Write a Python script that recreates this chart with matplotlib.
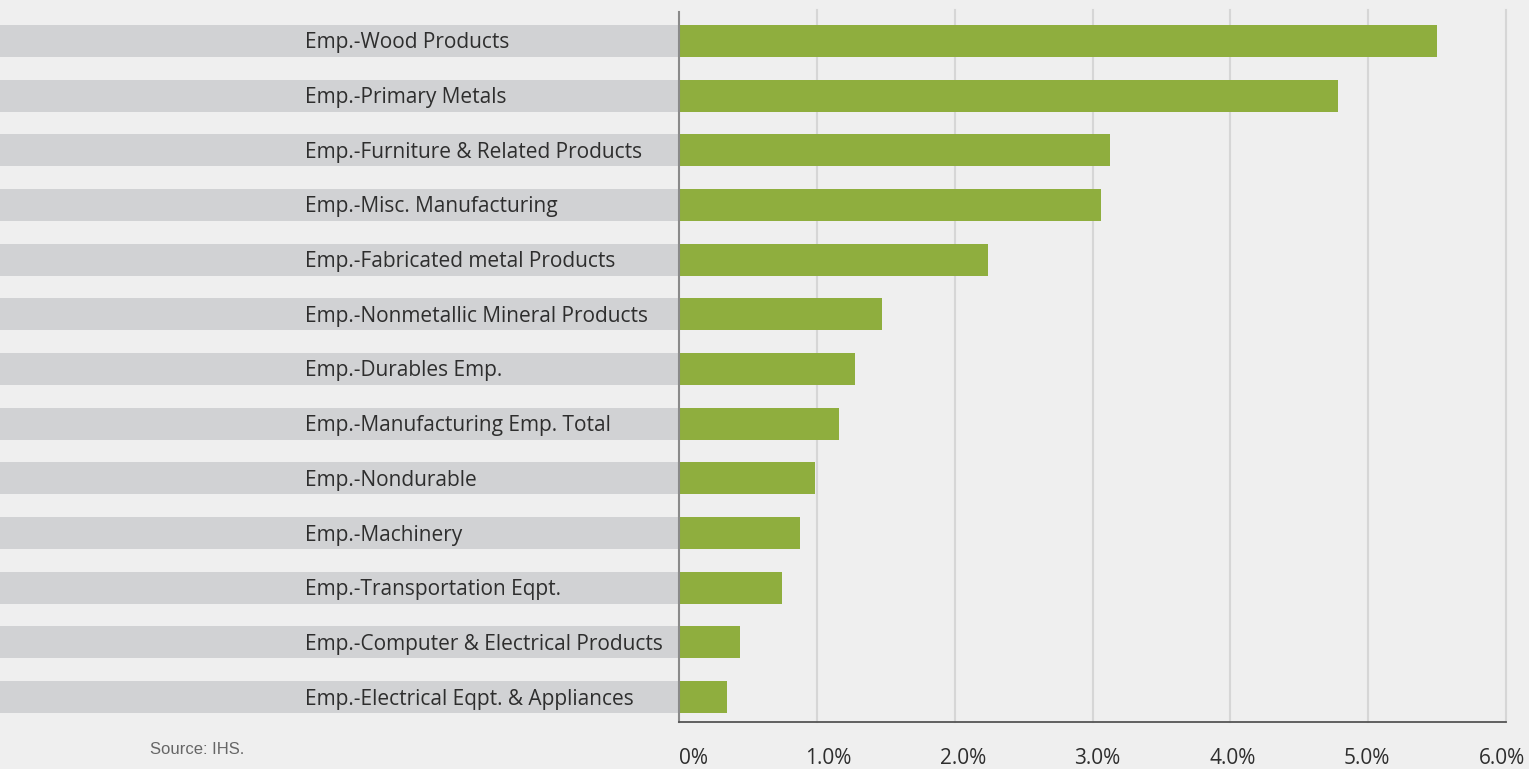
import matplotlib.pyplot as plt
import matplotlib.transforms as mtransforms
from matplotlib.patches import Rectangle

# values (percent)
categories = [
    "Emp.-Wood Products",
    "Emp.-Primary Metals",
    "Emp.-Furniture & Related Products",
    "Emp.-Misc. Manufacturing",
    "Emp.-Fabricated metal Products",
    "Emp.-Nonmetallic Mineral Products",
    "Emp.-Durables Emp.",
    "Emp.-Manufacturing Emp. Total",
    "Emp.-Nondurable",
    "Emp.-Machinery",
    "Emp.-Transportation Eqpt.",
    "Emp.-Computer & Electrical Products",
    "Emp.-Electrical Eqpt. & Appliances",
]
values = [5.50, 4.78, 3.13, 3.06, 2.24, 1.47, 1.28, 1.16, 0.99, 0.88, 0.75, 0.44, 0.35]
tick_values = [0, 1, 2, 3, 4, 5, 6]
tick_labels = ["0%", "1.0%", "2.0%", "3.0%", "4.0%", "5.0%", "6.0%"]

BG = "#efefef"
GREEN = "#8fae3e"
BAND = "#d1d2d4"
TEXT = "#2e2e2e"

plt.rcParams['font.family'] = ['Open Sans', 'DejaVu Sans']

W, H = 1529, 769
fig = plt.figure(figsize=(W / 100, H / 100), dpi=100, facecolor=BG)
ax = fig.add_axes([679 / W, 47 / H, (1506 - 679) / W, (722 - 12) / H])
ax.set_facecolor(BG)

ypos = list(range(len(categories)))
bar_h = 0.59

# grey label bands, from the figure's left edge to the axis
trans = mtransforms.blended_transform_factory(fig.transFigure, ax.transData)
down = mtransforms.ScaledTranslation(0, -0.02, fig.dpi_scale_trans)
for y, name in zip(ypos, categories):
    ax.add_patch(Rectangle((0, y - bar_h / 2), 678 / W, bar_h, transform=trans,
                           facecolor=BAND, edgecolor='none', clip_on=False, zorder=1))
    ax.text(305 / W, y, name, transform=trans + down, ha='left', va='center',
            fontsize=15, color=TEXT, zorder=3)

ax.barh(ypos, values, height=bar_h, color=GREEN, zorder=2)

ax.set_xlim(0, 6)
ax.set_ylim(len(categories) - 1 + 0.457, -0.53)

for x in tick_values[1:]:
    ax.axvline(x, ymin=0, ymax=1.003, color="#d6d6d6", lw=1.5, zorder=0, clip_on=False)

ax.set_xticks(tick_values)
ax.set_xticklabels(tick_labels, fontsize=15, color=TEXT)
ax.tick_params(axis='x', length=0, pad=19)
ax.set_yticks([])
# the labels drift slightly left of their ticks across the axis
for i, lab in enumerate(ax.get_xticklabels()):
    shift = mtransforms.ScaledTranslation((14 - 3 * i) / 100, 0, fig.dpi_scale_trans)
    lab.set_transform(lab.get_transform() + shift)

for side in ['top', 'right']:
    ax.spines[side].set_visible(False)
ax.spines['left'].set_color("#8a8a8a")
ax.spines['left'].set_linewidth(1.5)
ax.spines['bottom'].set_color("#555555")
ax.spines['bottom'].set_linewidth(1.3)

fig.text(150 / W, 1 - 749 / H, "Source: IHS.", fontsize=12, color="#666666",
         ha='left', va='center', family=['Liberation Sans', 'DejaVu Sans'])

fig.savefig("out.png", dpi=100, facecolor=BG)
